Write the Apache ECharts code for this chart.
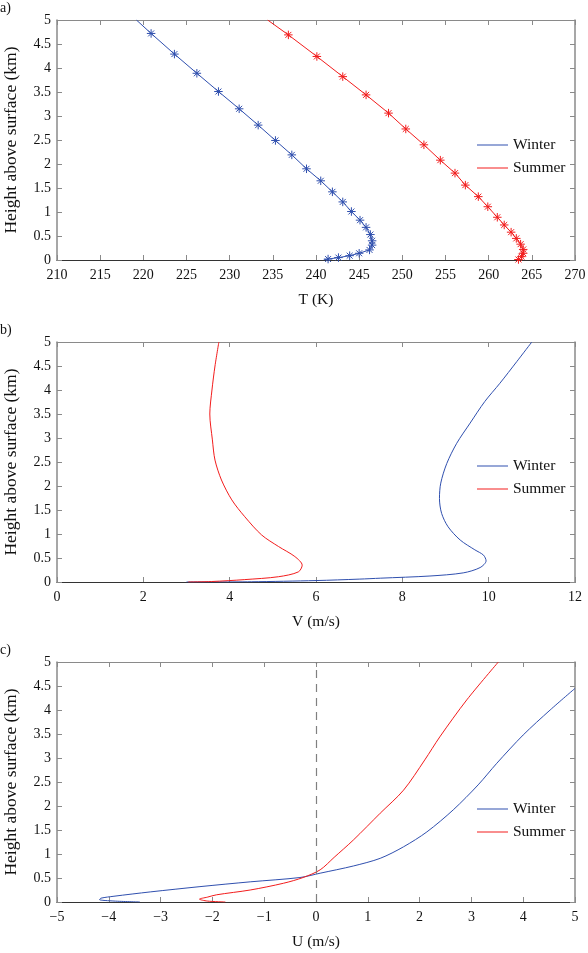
<!DOCTYPE html>
<html>
<head>
<meta charset="utf-8">
<script src="https://cdn.jsdelivr.net/npm/echarts@6/dist/echarts.min.js"></script>
<style>
html,body{margin:0;padding:0;background:#fff;}
#c{width:588px;height:953px;}
</style>
</head>
<body>
<div id="c"></div>
<script>
// Panel a: temperature profiles (T in K, z in km)
const winterT = [219.2, 220.9, 223.6, 226.2, 228.7, 231.1, 233.3, 235.3, 237.2, 238.9, 240.55, 241.9, 243.1, 244.1, 245.1, 245.8, 246.3, 246.5, 246.5, 246.2, 245.0, 243.9, 242.6, 241.4, 240.9];
const winterTz = [5.0, 4.72, 4.29, 3.89, 3.51, 3.15, 2.81, 2.49, 2.19, 1.9, 1.65, 1.42, 1.21, 1.01, 0.83, 0.68, 0.53, 0.40, 0.31, 0.21, 0.14, 0.09, 0.05, 0.02, 0.0];
const summerT = [234.4, 236.8, 240.1, 243.1, 245.8, 248.4, 250.4, 252.5, 254.4, 256.1, 257.3, 258.8, 259.9, 261.0, 261.8, 262.6, 263.2, 263.7, 264.0, 264.0, 263.8, 263.45, 263.3];
const summerTz = [5.0, 4.69, 4.24, 3.82, 3.44, 3.06, 2.73, 2.40, 2.08, 1.81, 1.56, 1.32, 1.11, 0.89, 0.73, 0.58, 0.45, 0.33, 0.22, 0.14, 0.07, 0.01, 0.0];

// Panel b: V wind (m/s)
const winterV = [3.0, 4.5, 6.0, 7.0, 7.5, 8.64, 9.41, 9.8, 9.94, 9.88, 9.68, 9.34, 9.06, 8.91, 8.86, 8.89, 9.03, 9.26, 9.57, 9.91, 10.26, 10.65, 11.0];
const winterVz = [0.0, 0.005, 0.03, 0.06, 0.08, 0.125, 0.19, 0.3, 0.44, 0.56, 0.67, 0.875, 1.15, 1.43, 1.74, 2.06, 2.47, 2.89, 3.31, 3.76, 4.14, 4.59, 5.0];
const summerV = [3.04, 3.58, 4.35, 5.13, 5.59, 5.68, 5.51, 5.13, 4.74, 4.35, 4.05, 3.81, 3.66, 3.60, 3.54, 3.59, 3.66, 3.75];
const summerVz = [0.0, 0.01, 0.05, 0.11, 0.21, 0.35, 0.53, 0.74, 0.98, 1.36, 1.71, 2.125, 2.54, 2.96, 3.5, 4.0, 4.5, 5.0];

// Panel c: U wind (m/s)
const winterU = [-3.4, -3.9, -4.18, -4.15, -3.9, -3.2, -2.24, -1.27, -0.31, 0.08, 0.72, 1.24, 1.69, 2.14, 2.65, 3.13, 3.49, 4.0, 4.52, 5.0];
const winterUz = [0.0, 0.02, 0.05, 0.08, 0.12, 0.21, 0.32, 0.42, 0.51, 0.6, 0.75, 0.91, 1.15, 1.46, 1.92, 2.44, 2.89, 3.48, 4.0, 4.45];
const summerU = [-1.75, -2.1, -2.25, -2.1, -1.92, -1.27, -0.63, -0.25, 0.08, 0.35, 0.72, 1.24, 1.69, 2.10, 2.39, 2.91, 3.52];
const summerUz = [0.0, 0.02, 0.06, 0.1, 0.15, 0.25, 0.39, 0.51, 0.67, 0.93, 1.29, 1.85, 2.33, 2.96, 3.44, 4.21, 5.0];

const seriesNames = ['Winter', 'Summer'];
const panelLabels = ['a)', 'b)', 'c)'];
const xNames = ['T (K)', 'V (m/s)', 'U (m/s)'];
const yName = 'Height above surface (km)';
const xRanges = [[210, 270, 5], [0, 12, 2], [-5, 5, 1]];

const BLUE = '#2f4fae';
const RED = '#f21c1c';
const AX = '#8a8a8a';
const FONT = '"Liberation Serif", "DejaVu Serif", serif';

const chart = echarts.init(document.getElementById('c'));

function pairs(xs, zs) { return xs.map((x, i) => [x, zs[i]]); }
function markedPairs(xs, zs) {
  return xs.map((x, i) => {
    const end = (i === 0 || i === xs.length - 1);
    return end ? { value: [x, zs[i]], symbol: 'none' } : [x, zs[i]];
  });
}
const fmtMinus = v => String(v).replace('-', '\u2212');

const grids = [20, 342, 662].map(t => ({
  left: 57, right: 13, top: t, height: 240,
  containLabel: false, outerBoundsMode: 'none'
}));

const xAxes = [], yAxes = [];
for (let g = 0; g < 3; g++) {
  const [mn, mx, iv] = xRanges[g];
  xAxes.push({
    type: 'value', gridIndex: g, min: mn, max: mx, interval: iv, position: 'bottom',
    name: xNames[g], nameLocation: 'middle', nameGap: 32,
    nameTextStyle: { fontFamily: FONT, fontSize: 15.5, color: '#111' },
    axisLine: { show: true, onZero: false, lineStyle: { color: '#333', width: 1.2 } },
    axisTick: { inside: true, length: 5, lineStyle: { color: AX } },
    axisLabel: { fontFamily: FONT, fontSize: 14, color: '#111', margin: 8, formatter: fmtMinus },
    splitLine: { show: false }
  });
  xAxes.push({
    type: 'value', gridIndex: g, min: mn, max: mx, interval: iv, position: 'top',
    axisLine: { show: true, onZero: false, lineStyle: { color: AX, width: 1.2 } },
    axisTick: { inside: true, length: 5, lineStyle: { color: AX } },
    axisLabel: { show: false }, splitLine: { show: false }
  });
  yAxes.push({
    type: 'value', gridIndex: g, min: 0, max: 5, interval: 0.5, position: 'left',
    name: yName, nameLocation: 'middle', nameGap: 37,
    nameTextStyle: { fontFamily: FONT, fontSize: 17.5, color: '#111' },
    axisLine: { show: true, onZero: false, lineStyle: { color: AX, width: 1.5 } },
    axisTick: { inside: true, length: 5, lineStyle: { color: AX } },
    axisLabel: { fontFamily: FONT, fontSize: 14, color: '#111', margin: 6 },
    splitLine: { show: false }
  });
  yAxes.push({
    type: 'value', gridIndex: g, min: 0, max: 5, interval: 0.5, position: 'right',
    axisLine: { show: true, onZero: false, lineStyle: { color: AX, width: 1.5 } },
    axisTick: { inside: true, length: 5, lineStyle: { color: AX } },
    axisLabel: { show: false }, splitLine: { show: false }
  });
}

const STAR = 'path://M5,0L5,10M0,5L10,5M1.5,1.5L8.5,8.5M1.5,8.5L8.5,1.5';

function lineSeries(name, color, g, data, markers) {
  return {
    name, type: 'line', xAxisIndex: g * 2, yAxisIndex: g * 2,
    data, smooth: markers ? false : 0.3,
    showSymbol: !!markers, symbol: markers ? STAR : 'none', symbolSize: 8.5,
    itemStyle: { color, borderColor: color, borderWidth: 1 },
    lineStyle: { color, width: 1 },
    emphasis: { disabled: true }, z: 3
  };
}

const series = [
  lineSeries(seriesNames[0], BLUE, 0, markedPairs(winterT, winterTz), true),
  lineSeries(seriesNames[1], RED, 0, markedPairs(summerT, summerTz), true),
  lineSeries(seriesNames[0], BLUE, 1, pairs(winterV, winterVz), false),
  lineSeries(seriesNames[1], RED, 1, pairs(summerV, summerVz), false),
  lineSeries(seriesNames[0], BLUE, 2, pairs(winterU, winterUz), false),
  lineSeries(seriesNames[1], RED, 2, pairs(summerU, summerUz), false)
];
series[4].markLine = {
  silent: true, symbol: 'none', label: { show: false },
  lineStyle: { color: '#808080', type: [8, 6], width: 1.2 },
  data: [{ xAxis: 0 }]
};

const legendIcon = 'path://M0,0L31,0L31,1L0,1Z';
const legends = [132, 453, 796].map(t => ({
  orient: 'vertical', left: 472, top: t, itemGap: 7,
  icon: legendIcon, itemWidth: 31, itemHeight: 1.2,
  textStyle: { fontFamily: FONT, fontSize: 15.5, color: '#111', lineHeight: 16 },
  data: [
    { name: seriesNames[0], itemStyle: { color: BLUE, borderWidth: 0 } },
    { name: seriesNames[1], itemStyle: { color: RED, borderWidth: 0 } }
  ]
}));

const graphic = panelLabels.map((t, i) => ({
  type: 'text', left: 0, top: [1, 323, 643][i],
  style: { text: t, font: '14px ' + FONT, fill: '#111' }
}));

chart.setOption({
  animation: false,
  backgroundColor: '#fff',
  grid: grids, xAxis: xAxes, yAxis: yAxes,
  series, legend: legends, graphic
});
</script>
</body>
</html>
